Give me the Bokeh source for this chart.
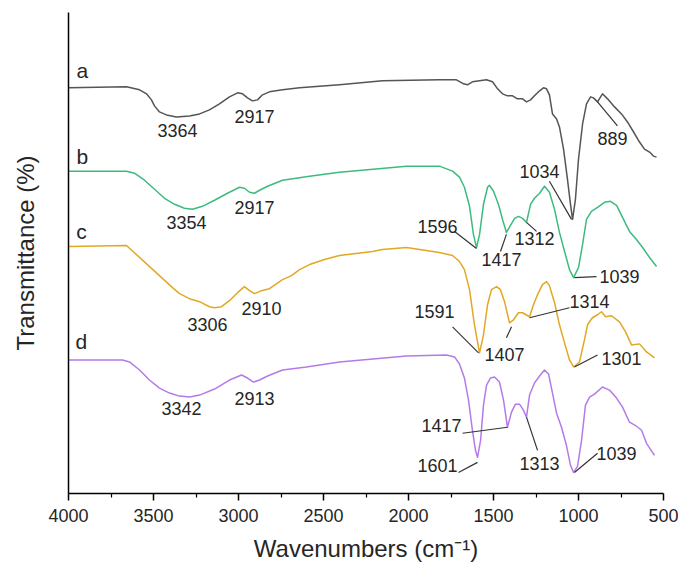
from bokeh.plotting import figure
from bokeh.models import Range1d, ColumnDataSource, LabelSet, FixedTicker
from bokeh.core.properties import value
from bokeh.embed import file_html
from bokeh.resources import INLINE

# ---- data (wavenumber cm-1, transmittance in arbitrary offset units) ----
wn_a = [4000, 3659, 3582, 3541, 3512, 3494, 3465, 3424, 3365, 3288,
        3229, 3171, 3112, 3053, 3006, 2976, 2947, 2918, 2888, 2859,
        2818, 2741, 2641, 2406, 2153, 1818, 1718, 1676, 1653, 1624,
        1541, 1506, 1476, 1447, 1418, 1388, 1359, 1329, 1306, 1282,
        1259, 1229, 1206, 1188, 1171, 1153, 1129, 1112, 1088, 1065,
        1047, 1035, 1018, 1000, 976, 953, 929, 912, 888, 859,
        829, 788, 747, 712, 676, 641, 612, 582, 559, 541]
t_a = [404, 405, 402, 398, 392, 386, 380, 377, 375, 376,
       378, 382, 388, 395, 399, 398, 394, 391, 392, 397,
       400, 402, 404, 407, 411, 412, 412, 408, 407, 410,
       412, 410, 403, 398, 396, 396, 393, 393, 390, 392,
       396, 401, 404, 403, 397, 378, 373, 365, 343, 313,
       288, 273, 293, 333, 368, 388, 395, 394, 390, 398,
       393, 385, 378, 370, 360, 350, 343, 340, 336, 335]

wn_b = [4000, 3659, 3612, 3553, 3494, 3435, 3376, 3318, 3271, 3212,
        3141, 3065, 2994, 2965, 2935, 2906, 2876, 2829, 2741, 2582,
        2406, 2012, 1818, 1741, 1700, 1671, 1641, 1618, 1600, 1582,
        1559, 1535, 1524, 1500, 1471, 1447, 1424, 1400, 1376, 1353,
        1329, 1306, 1282, 1259, 1229, 1200, 1171, 1141, 1112, 1082,
        1053, 1029, 1000, 976, 953, 924, 888, 847, 812, 776,
        741, 700, 659, 623, 582, 541]
t_b = [321, 321, 319, 312, 303, 294, 288, 284, 283, 286,
       292, 299, 305, 304, 300, 299, 302, 306, 312, 316,
       320, 326, 326, 321, 315, 305, 286, 258, 245, 258,
       288, 305, 307, 301, 288, 273, 260, 267, 274, 276,
       274, 270, 288, 294, 299, 306, 300, 283, 260, 241,
       223, 215, 225, 248, 273, 281, 285, 290, 291, 287,
       275, 261, 253, 245, 235, 226]

wn_c = [4000, 3659, 3388, 3347, 3288, 3229, 3171, 3141, 3100, 3053,
        3006, 2965, 2935, 2906, 2865, 2818, 2741, 2688, 2641, 2582,
        2494, 2406, 2212, 2153, 2012, 1818, 1741, 1700, 1671, 1641,
        1612, 1582, 1559, 1535, 1512, 1482, 1459, 1435, 1406, 1382,
        1353, 1329, 1288, 1265, 1241, 1212, 1188, 1171, 1141, 1112,
        1082, 1053, 1029, 994, 965, 947, 918, 888, 865, 841,
        806, 759, 723, 688, 641, 600, 553]
t_c = [246, 247, 205, 199, 194, 191, 186, 185, 186, 192,
       200, 206, 202, 199, 202, 204, 213, 217, 223, 228,
       233, 237, 241, 243, 245, 240, 237, 231, 223, 203,
       168, 140, 158, 188, 203, 206, 203, 191, 170, 173,
       180, 180, 176, 188, 198, 208, 211, 207, 190, 168,
       150, 133, 126, 131, 153, 168, 175, 178, 181, 176,
       177, 171, 161, 148, 149, 141, 135]

wn_d = [4000, 3682, 3641, 3582, 3524, 3465, 3406, 3347, 3288, 3229,
        3141, 3053, 2982, 2947, 2912, 2876, 2829, 2741, 2600, 2406,
        2012, 1776, 1729, 1700, 1671, 1647, 1624, 1606, 1594, 1576,
        1559, 1541, 1518, 1494, 1465, 1441, 1418, 1394, 1371, 1347,
        1324, 1306, 1288, 1259, 1229, 1200, 1176, 1153, 1129, 1100,
        1071, 1047, 1029, 1006, 982, 959, 935, 906, 859, 818,
        776, 741, 700, 659, 629, 600, 553]
t_d = [133, 133, 131, 123, 113, 105, 100, 97, 96, 98,
       104, 113, 118, 115, 111, 113, 117, 123, 126, 131,
       137, 138, 136, 129, 115, 93, 63, 43, 36, 53,
       88, 108, 115, 116, 111, 93, 66, 81, 89, 89,
       83, 76, 98, 110, 117, 123, 119, 100, 80, 66,
       48, 28, 21, 27, 53, 88, 96, 99, 106, 103,
       95, 86, 71, 67, 63, 50, 38]

curve_names = ["a", "b", "c", "d"]
curve_colors = ["#555555", "#3dbb7f", "#e0a823", "#b47be8"]
name_x = [3918, 3918, 3924, 3924]
name_y = [421, 336, 261, 151]

# peak annotations: text, label position, leader start, leader end (at peak)
peak_text = ["3364", "2917", "889", "1034",
             "3354", "2917", "1596", "1417", "1312", "1039",
             "3306", "2910", "1591", "1407", "1314", "1301",
             "3342", "2913", "1417", "1601", "1313", "1039"]
peak_lx = [3359, 2906, 800, 1229,
           3306, 2906, 1829, 1453, 1259, 759,
           3182, 2865, 1847, 1435, 935, 747,
           3335, 2906, 1806, 1829, 1229, 777]
peak_ly = [361, 375, 354, 321,
           270, 285, 266, 233, 254, 216,
           168, 184, 181, 138, 191, 134,
           85, 95, 68, 28, 30, 40]
lead_x0 = [None, None, 771, 1171,
           None, None, 1729, 1459, 1247, 894,
           None, None, 1741, 1424, 1053, 888,
           None, None, 1682, 1706, 1241, 888]
lead_y0 = [None, None, 366, 311,
           None, None, 261, 241, 261, 216,
           None, None, 166, 155, 185, 138,
           None, None, 60, 21, 43, 40]
lead_x1 = [None, None, 888, 1041,
           None, None, 1600, 1424, 1306, 1024,
           None, None, 1588, 1394, 1288, 1024,
           None, None, 1418, 1594, 1306, 1024]
lead_y1 = [None, None, 390, 273,
           None, None, 244, 258, 270, 215,
           None, None, 140, 166, 175, 126,
           None, None, 66, 31, 76, 21]

x_ticks = [4000, 3500, 3000, 2500, 2000, 1500, 1000, 500]
x_minor = [3750, 3250, 2750, 2250, 1750, 1250, 750]

FONT = "Liberation Sans"
TXT = "#262626"

p = figure(width=678, height=564, output_backend="svg", toolbar_location=None,
           x_range=Range1d(4000, 500), y_range=Range1d(0, 479),
           min_border_left=68, min_border_right=15, min_border_top=12, min_border_bottom=10)
p.outline_line_color = None
p.grid.visible = False
p.background_fill_color = "white"

for wn, t, c in zip([wn_a, wn_b, wn_c, wn_d], [t_a, t_b, t_c, t_d], curve_colors):
    p.line(wn, t, line_color=c, line_width=1.5, line_join="round")

# leader lines
lx0, ly0, lx1, ly1 = [], [], [], []
for a0, b0, a1, b1 in zip(lead_x0, lead_y0, lead_x1, lead_y1):
    if a0 is not None:
        lx0.append(a0); ly0.append(b0); lx1.append(a1); ly1.append(b1)
p.segment(lx0, ly0, lx1, ly1, line_color="#333333", line_width=1.2)

lab_src = ColumnDataSource(dict(x=peak_lx, y=peak_ly, text=peak_text))
p.add_layout(LabelSet(x="x", y="y", text="text", source=lab_src, text_align="center",
                      text_baseline="middle", text_font=value(FONT),
                      text_font_size=value("18px"), text_color=TXT))
name_src = ColumnDataSource(dict(x=name_x, y=name_y, text=curve_names))
p.add_layout(LabelSet(x="x", y="y", text="text", source=name_src, text_align="center",
                      text_baseline="middle", text_font=value(FONT),
                      text_font_size=value("21px"), text_color=TXT))

xa = p.xaxis[0]
xa.ticker = FixedTicker(ticks=x_ticks, minor_ticks=x_minor)
xa.axis_label = "Wavenumbers (cm\u207b\u00b9)"
xa.axis_label_text_font = FONT
xa.axis_label_text_font_size = "24px"
xa.axis_label_text_font_style = "normal"
xa.axis_label_text_color = TXT
xa.axis_label_standoff = 10
xa.major_label_text_font = FONT
xa.major_label_text_font_size = "18px"
xa.major_label_text_color = TXT
xa.major_label_standoff = 8
xa.axis_line_color = "black"
xa.axis_line_width = 1.5
xa.major_tick_line_color = "black"
xa.major_tick_line_width = 1.5
xa.major_tick_out = 7
xa.major_tick_in = 0
xa.minor_tick_line_color = "black"
xa.minor_tick_line_width = 1.2
xa.minor_tick_out = 4
xa.minor_tick_in = 0

ya = p.yaxis[0]
ya.ticker = FixedTicker(ticks=[])
ya.axis_label = "Transmittance (%)"
ya.axis_label_text_font = FONT
ya.axis_label_text_font_size = "24px"
ya.axis_label_text_font_style = "normal"
ya.axis_label_text_color = TXT
ya.axis_label_standoff = 30
ya.major_tick_line_color = None
ya.minor_tick_line_color = None
ya.axis_line_color = "black"
ya.axis_line_width = 1.5

open("out.html", "w").write(file_html(p, INLINE))
